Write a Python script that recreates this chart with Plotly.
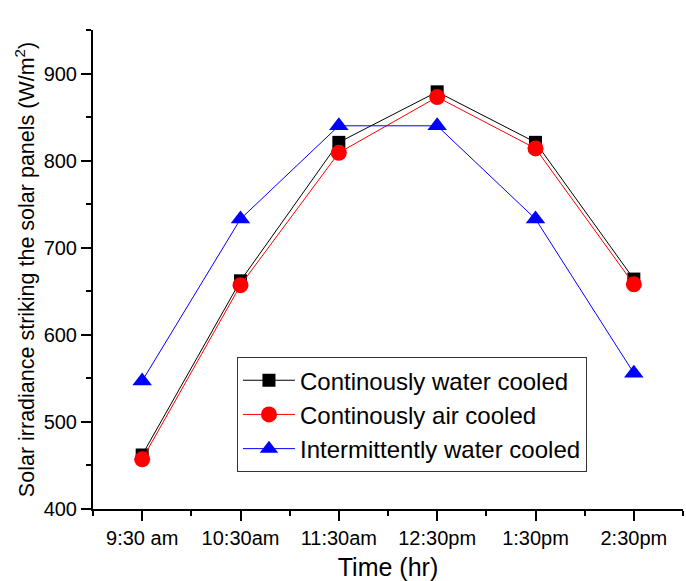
import plotly.graph_objects as go

times = ["9:30 am", "10:30am", "11:30am", "12:30pm", "1:30pm", "2:30pm"]
water_cooled = [462, 662, 821, 879, 821, 664]
air_cooled = [457, 657, 809, 873, 814, 658]
intermittent = [547, 733, 840, 840, 733, 556]

x = list(range(1, len(times) + 1))

fig = go.Figure()
fig.add_trace(go.Scatter(x=x, y=water_cooled, mode="lines+markers",
                         name="Continously water cooled",
                         line=dict(color="black", width=1),
                         marker=dict(symbol="square", size=13, color="black")))
fig.add_trace(go.Scatter(x=x, y=air_cooled, mode="lines+markers",
                         name="Continously air cooled",
                         line=dict(color="red", width=1),
                         marker=dict(symbol="circle", size=16, color="red")))
fig.add_trace(go.Scatter(x=x, y=intermittent, mode="lines+markers",
                         name="Intermittently water cooled",
                         line=dict(color="blue", width=1),
                         marker=dict(symbol="triangle-up", size=17, color="blue")))

fig.update_layout(
    width=686, height=581,
    margin=dict(l=93, r=3, t=30, b=72),
    plot_bgcolor="white", paper_bgcolor="white",
    font=dict(family="Liberation Sans, Arial, sans-serif", color="black", size=20),
    showlegend=True,
    legend=dict(x=0.244, y=0.197, xanchor="left", yanchor="middle",
                bordercolor="#333", borderwidth=1, bgcolor="white",
                font=dict(size=24), tracegroupgap=0, itemwidth=52),
    xaxis=dict(range=[0.5, 6.5], tickmode="array", tickvals=x, ticktext=times,
               automargin=False,
               showline=True, linecolor="black", linewidth=2,
               ticks="outside", ticklen=10, tickwidth=2, tickcolor="black",
               showgrid=False, zeroline=False,
               minor=dict(tickmode="linear", tick0=0.5, dtick=1, ticks="outside",
                          ticklen=5, tickwidth=2, tickcolor="black"),
               title=dict(text="Time (hr)", font=dict(size=25), standoff=10),
               tickfont=dict(size=20)),
    yaxis=dict(range=[400, 950], tickmode="array", tickvals=[400, 500, 600, 700, 800, 900],
               automargin=False,
               showline=True, linecolor="black", linewidth=2,
               ticks="outside", ticklen=10, tickwidth=2, tickcolor="black",
               showgrid=False, zeroline=False,
               minor=dict(tickmode="linear", tick0=450, dtick=100, ticks="outside",
                          ticklen=5, tickwidth=2, tickcolor="black"),
               title=dict(text="Solar irradiance striking the solar panels (W/m<sup>2</sup>)",
                          font=dict(size=21.5), standoff=3),
               tickfont=dict(size=20)),
)

fig.write_html("out.html", config={"displayModeBar": False},
               post_script="document.body.style.margin='0px';document.body.style.padding='0px';")
